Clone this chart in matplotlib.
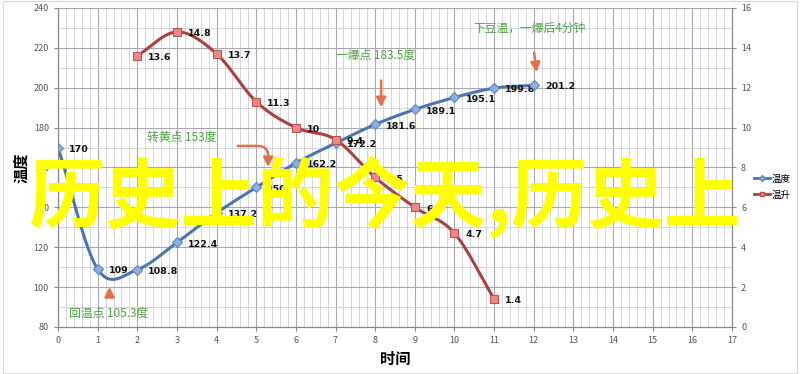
import numpy as np
import matplotlib.pyplot as plt
from matplotlib.patches import Rectangle

plt.rcParams['font.family'] = ['Noto Sans CJK SC', 'DejaVu Sans']

# data
temp_x = [0, 1, 2, 3, 4, 5, 6, 7, 8, 9, 10, 11, 12]
temp_y = [170, 109, 108.8, 122.4, 137.2, 150, 162.2, 172.2, 181.6, 189.1, 195.1, 199.8, 201.2]
rise_x = [2, 3, 4, 5, 6, 7, 8, 9, 10, 11]
rise_y = [13.6, 14.8, 13.7, 11.3, 10, 9.4, 7.5, 6, 4.7, 1.4]
left_ticks = list(range(80, 241, 20))
right_ticks = list(range(0, 17, 2))
x_ticks = list(range(0, 18))


def smooth(xs, ys, n=30):
    # catmull-rom curve through the points, like excel's smoothed line
    xs = np.asarray(xs, float)
    ys = np.asarray(ys, float)
    px = np.concatenate([[2 * xs[0] - xs[1]], xs, [2 * xs[-1] - xs[-2]]])
    py = np.concatenate([[2 * ys[0] - ys[1]], ys, [2 * ys[-1] - ys[-2]]])
    outx, outy = [], []
    t = np.linspace(0, 1, n)
    for i in range(1, len(px) - 2):
        for p, out in ((px, outx), (py, outy)):
            p0, p1, p2, p3 = p[i - 1], p[i], p[i + 1], p[i + 2]
            out.extend(0.5 * (2 * p1 + (-p0 + p2) * t
                              + (2 * p0 - 5 * p1 + 4 * p2 - p3) * t ** 2
                              + (-p0 + 3 * p1 - 3 * p2 + p3) * t ** 3))
    return outx, outy


fig = plt.figure(figsize=(8, 3.74), dpi=100)
fig.patches.append(Rectangle((0.004, 0.003), 0.992, 0.994, transform=fig.transFigure,
                             fill=False, edgecolor='#d8d8d8', lw=0.8))
ax = fig.add_axes([0.0725, 0.1257, 0.8425, 0.853])
ax2 = ax.twinx()

ax.set_xlim(0, 17)
ax.set_ylim(80, 240)
ax2.set_ylim(0, 16)
ax.set_xticks(x_ticks)
ax.set_yticks(left_ticks)
ax2.set_yticks(right_ticks)
ax.set_xticks(np.arange(0, 17.01, 0.2), minor=True)
ax.set_yticks(np.arange(80, 241, 10), minor=True)
ax.grid(True, which='major', color='#a8a8b4', lw=0.8)
ax.grid(True, which='minor', color='#cfcfd8', lw=0.6)
ax.tick_params(which='minor', length=0)
for a in (ax, ax2):
    a.tick_params(which='major', labelsize=6.5, labelcolor='#555555', color='#888888',
                  length=3, direction='out')
    for s in a.spines.values():
        s.set_color('#888888')
        s.set_linewidth(0.8)
    a.spines['top'].set_visible(False)
ax.set_axisbelow(True)

sx, sy = smooth(temp_x, temp_y)
ax.plot(sx, sy, color='#4a76ad', lw=2.2, zorder=3)
ax.plot(temp_x, temp_y, ls='none', marker='D', ms=5, mfc='#8fb0dc', mec='#5a86c0',
        mew=0.8, zorder=4)
rx, ry = smooth(rise_x, rise_y)
ax2.plot(rx, ry, color='#a8423f', lw=2.2, zorder=3)
ax2.plot(rise_x, rise_y, ls='none', marker='s', ms=6, mfc='#ec8a88', mec='#c0504d',
         mew=0.8, zorder=4)

for x, y in zip(temp_x, temp_y):
    ax.annotate(f'{y:g}', (x, y), xytext=(8, -3), textcoords='offset points',
                fontsize=6.8, fontweight='bold', color='#111111', family='DejaVu Sans')
for x, y in zip(rise_x, rise_y):
    ax2.annotate(f'{y:g}', (x, y), xytext=(8, -3), textcoords='offset points',
                 fontsize=6.8, fontweight='bold', color='#111111', family='DejaVu Sans')

ax.set_xlabel('时间', fontsize=11, fontweight='bold', labelpad=4)
ax.set_ylabel('温度', fontsize=11, fontweight='bold', labelpad=3)

# notes and hand-drawn arrows
green = '#4fa244'
orange = '#e2704a'
ax.text(1.28, 87, '回温点 105.3度', color=green, fontsize=8.5, ha='center', va='center')
ax.text(3.13, 175.3, '转黄点 153度', color=green, fontsize=8.5, ha='center', va='center')
ax.text(8.0, 216.5, '一爆点 183.5度', color=green, fontsize=8.5, ha='center', va='center')
ax.text(11.9, 230, '下豆温，一爆后4分钟', color=green, fontsize=8.5, ha='center', va='center')
arrow = dict(arrowstyle='-|>', color=orange, lw=1.8, mutation_scale=14)
ax.annotate('', xy=(1.3, 101.5), xytext=(1.3, 94.5), arrowprops=arrow)
ax.annotate('', xy=(5.3, 158.8), xytext=(4.46, 170.8),
            arrowprops=dict(arrow, connectionstyle='angle,angleA=0,angleB=90,rad=10'))
ax.annotate('', xy=(8.15, 188.8), xytext=(8.15, 205), arrowprops=arrow)
ax.annotate('', xy=(12.08, 206.4), xytext=(12.0, 219), arrowprops=arrow)

h1, = ax.plot([], [], color='#4a76ad', lw=2, marker='D', ms=3, mfc='#8fb0dc', mec='#5a86c0')
h2, = ax.plot([], [], color='#a8423f', lw=2, marker='s', ms=3, mfc='#ec8a88', mec='#c0504d')
fig.legend([h1, h2], ['温度', '温升'], loc='center left', bbox_to_anchor=(0.943, 0.5),
           frameon=False, fontsize=6.8, handlelength=1.6, handletextpad=0.25,
           labelspacing=0.7, borderpad=0, borderaxespad=0)

# overlaid banner text
fig.text(0.48, 0.472, '历史上的今天,历史上', color='#ffff00', fontsize=55,
         fontweight='bold', ha='center', va='center', zorder=10)

fig.savefig('out.png', dpi=100)
